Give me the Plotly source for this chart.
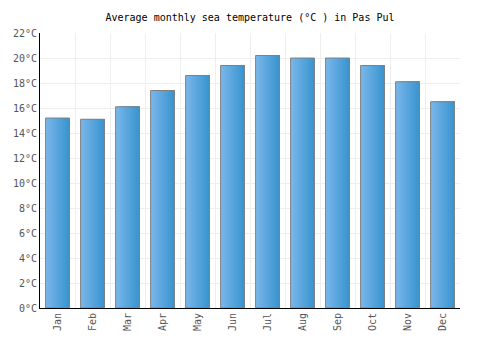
import plotly.graph_objects as go

months = ["Jan", "Feb", "Mar", "Apr", "May", "Jun", "Jul", "Aug", "Sep", "Oct", "Nov", "Dec"]
temps = [15.2, 15.1, 16.1, 17.4, 18.6, 19.4, 20.2, 20.0, 20.0, 19.4, 18.1, 16.5]
y_ticks = list(range(0, 23, 2))
y_labels = [f"{v}°C" for v in y_ticks]

x = list(range(len(months)))
bar_w = 0.68
n_slices = 16
c0 = (0x78, 0xB6, 0xEA)
c1 = (0x3A, 0x95, 0xD0)

fig = go.Figure()
sw = bar_w / n_slices
for i in range(n_slices):
    t = i / (n_slices - 1)
    col = "rgb(%d,%d,%d)" % tuple(round(a + (b - a) * t) for a, b in zip(c0, c1))
    fig.add_trace(go.Bar(
        x=x, y=temps, width=bar_w - i * sw, offset=-bar_w / 2 + i * sw,
        marker=dict(color=col, line=dict(width=0)),
        hoverinfo="skip", showlegend=False,
    ))
fig.add_trace(go.Bar(
    x=x, y=temps, width=bar_w, offset=-bar_w / 2,
    marker=dict(color="rgba(0,0,0,0)", line=dict(color="#808080", width=1)),
    showlegend=False,
))

font = "DejaVu Sans Mono, monospace"
fig.update_layout(
    width=500, height=350,
    margin=dict(l=40, r=40, t=33, b=42),
    paper_bgcolor="white", plot_bgcolor="white",
    barmode="overlay",
    title=dict(text="Average monthly sea temperature (°C ) in Pas Pul",
               x=0.5, xanchor="center", y=0.95, yanchor="middle",
               font=dict(family=font, size=10, color="black")),
    xaxis=dict(
        range=[-0.5, 11.5], tickmode="array", tickvals=x, ticktext=months,
        tickangle=-90, showgrid=False, zeroline=False,
        showline=True, linecolor="black", linewidth=1,
        ticks="", tickfont=dict(family=font, size=10, color="#555"),
        minor=dict(tickmode="array", tickvals=[k + 0.5 for k in range(-1, 12)],
                   showgrid=True, gridcolor="#eeeeee", gridwidth=1, ticks=""),
    ),
    yaxis=dict(
        range=[0, 22], tickmode="array", tickvals=y_ticks, ticktext=y_labels,
        showgrid=True, gridcolor="#eeeeee", gridwidth=1, zeroline=False,
        showline=True, linecolor="black", linewidth=1, ticks="",
        tickfont=dict(family=font, size=10, color="#555"),
    ),
)

fig.write_html("out.html")
